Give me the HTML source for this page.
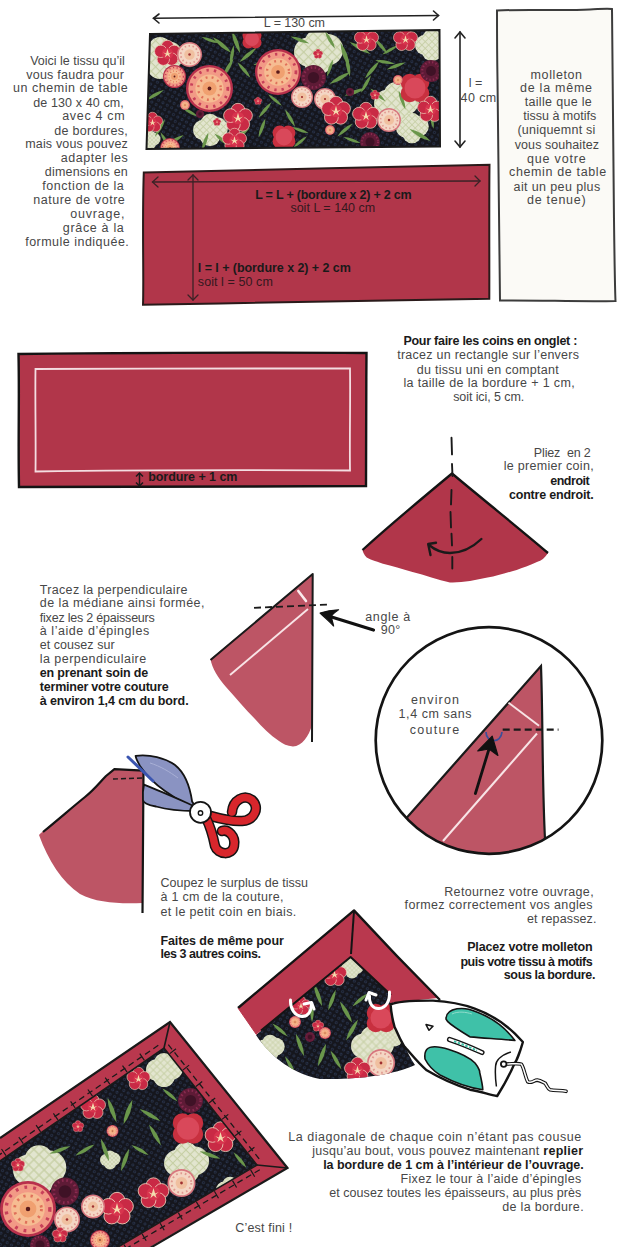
<!DOCTYPE html>
<html><head><meta charset="utf-8">
<style>
html,body{margin:0;padding:0;background:#fff;}
body{width:624px;height:1247px;position:relative;overflow:hidden;font-family:"Liberation Sans",sans-serif;color:#474747;}
svg.main{position:absolute;left:0;top:0;}
.ln{position:absolute;font-size:12.5px;line-height:14px;white-space:pre;}
b{font-weight:bold;color:#1a1a1a;}
</style></head><body>
<svg class="main" width="624" height="1247" viewBox="0 0 624 1247">
<defs>
<symbol id="plum" viewBox="-1 -1 2 2" overflow="visible">
<g fill="#c92a45" stroke="#f3d9c0" stroke-width="0.05">
<circle cx="0" cy="-0.52" r="0.46"/><circle cx="0.5" cy="-0.16" r="0.46"/><circle cx="0.31" cy="0.42" r="0.46"/><circle cx="-0.31" cy="0.42" r="0.46"/><circle cx="-0.5" cy="-0.16" r="0.46"/>
</g>
<circle r="0.42" fill="#d8344e"/>
<path d="M0 -0.35 L0.1 0 L0.33 -0.1 L0.12 0.08 L0.2 0.3 L0 0.12 L-0.2 0.3 L-0.12 0.08 L-0.33 -0.1 L-0.1 0Z" fill="#f4dcae"/>
</symbol>
<symbol id="chry" viewBox="-1 -1 2 2" overflow="visible">
<circle r="1" fill="#b8304c"/>
<circle r="0.9" fill="#f29a86"/>
<circle r="0.78" fill="none" stroke="#c8405a" stroke-width="0.12" stroke-dasharray="0.1 0.22"/>
<circle r="0.6" fill="#f6bc92"/>
<circle r="0.48" fill="none" stroke="#e0705a" stroke-width="0.1" stroke-dasharray="0.08 0.18"/>
<circle r="0.3" fill="#f0a070"/>
<circle r="0.08" fill="#5a1a1a"/>
</symbol>
<symbol id="pchry" viewBox="-1 -1 2 2" overflow="visible">
<circle r="1" fill="#d7767e"/>
<circle r="0.88" fill="#f4d6c4"/>
<circle r="0.7" fill="none" stroke="#e09890" stroke-width="0.14" stroke-dasharray="0.12 0.2"/>
<circle r="0.42" fill="#f0c0a0"/>
<circle r="0.1" fill="#a03030"/>
</symbol>
<symbol id="dchry" viewBox="-1 -1 2 2" overflow="visible">
<circle r="1" fill="#5e1b36"/>
<circle r="0.8" fill="none" stroke="#8a2a50" stroke-width="0.2" stroke-dasharray="0.12 0.2"/>
<circle r="0.45" fill="#3f1226"/>
</symbol>
<pattern id="dots" width="5" height="5" patternUnits="userSpaceOnUse" patternTransform="rotate(30)">
<rect width="5" height="5" fill="#15161d"/>
<circle cx="2.5" cy="2.5" r="1" fill="none" stroke="#2e3d60" stroke-width="0.8"/>
</pattern>
<symbol id="leaf" viewBox="-1 -1 2 2" overflow="visible">
<path d="M-1 0 Q0 -0.34 1 0 Q0 0.34 -1 0Z" fill="#6a964b"/>
</symbol>
<symbol id="latt" viewBox="-1 -1 2 2" overflow="visible">
<g fill="#c8303f"><circle cx="-0.35" cy="-0.35" r="0.6"/><circle cx="0.35" cy="-0.35" r="0.6"/><circle cx="0.35" cy="0.35" r="0.6"/><circle cx="-0.35" cy="0.35" r="0.6"/></g>
<circle r="0.7" fill="#d9485a"/>
</symbol>
<symbol id="cloud" viewBox="-1 -1 2 2" overflow="visible">
<g fill="url(#lat)"><circle cx="-0.4" cy="0" r="0.6"/><circle cx="0.4" cy="-0.1" r="0.65"/><circle cx="0" cy="0.35" r="0.6"/><circle cx="0" cy="-0.4" r="0.55"/></g>
</symbol>
<pattern id="lat" width="0.28" height="0.28" patternUnits="userSpaceOnUse" patternTransform="rotate(45)">
<rect width="0.28" height="0.28" fill="#e2e5cf"/>
<path d="M0 0.14 H0.28 M0.14 0 V0.28" stroke="#c6cfa4" stroke-width="0.05"/>
</pattern>
</defs>
<!-- top arrow -->
<g stroke="#222" stroke-width="1.6" fill="none" stroke-linecap="round">
<path d="M153.5 18.3 L438.5 15.5"/>
<path d="M159 14 L153.5 18.3 L159 23"/>
<path d="M433.5 11 L438.5 15.5 L433.5 20"/>
</g>
<!-- top fabric -->
<g id="fab1">
<defs><clipPath id="cf1"><path d="M150 34 L439.5 30 L440 146.5 L146.5 149 Z"/></clipPath></defs>
<g clip-path="url(#cf1)">
<rect x="145" y="28" width="300" height="124" fill="url(#dots)"/>
<use href="#cloud" x="138.0" y="36.0" width="44.0" height="44.0"/>
<use href="#cloud" x="294.0" y="28.0" width="48.0" height="48.0"/>
<use href="#cloud" x="415.0" y="28.0" width="34.0" height="34.0"/>
<use href="#cloud" x="193.0" y="113.0" width="34.0" height="34.0"/>
<use href="#cloud" x="374.0" y="81.0" width="44.0" height="44.0"/>
<use href="#cloud" x="396.0" y="112.0" width="32.0" height="32.0"/>
<use href="#cloud" x="140.0" y="130.0" width="20.0" height="20.0"/>
<use href="#leaf" x="-12.0" y="-12.0" width="24.0" height="24.0" transform="translate(222,45) rotate(40)"/>
<use href="#leaf" x="-12.0" y="-12.0" width="24.0" height="24.0" transform="translate(236,42) rotate(70)"/>
<use href="#leaf" x="-11.0" y="-11.0" width="22.0" height="22.0" transform="translate(248,55) rotate(-40)"/>
<use href="#leaf" x="-11.0" y="-11.0" width="22.0" height="22.0" transform="translate(228,68) rotate(-60)"/>
<use href="#leaf" x="-9.0" y="-9.0" width="18.0" height="18.0" transform="translate(210,40) rotate(20)"/>
<use href="#leaf" x="-9.0" y="-9.0" width="18.0" height="18.0" transform="translate(256,40) rotate(100)"/>
<use href="#leaf" x="-12.0" y="-12.0" width="24.0" height="24.0" transform="translate(240,135) rotate(-35)"/>
<use href="#leaf" x="-10.0" y="-10.0" width="20.0" height="20.0" transform="translate(222,140) rotate(40)"/>
<use href="#leaf" x="-10.0" y="-10.0" width="20.0" height="20.0" transform="translate(262,128) rotate(-70)"/>
<use href="#leaf" x="-10.0" y="-10.0" width="20.0" height="20.0" transform="translate(160,128) rotate(-60)"/>
<use href="#leaf" x="-10.0" y="-10.0" width="20.0" height="20.0" transform="translate(175,140) rotate(-30)"/>
<use href="#leaf" x="-10.0" y="-10.0" width="20.0" height="20.0" transform="translate(290,118) rotate(60)"/>
<use href="#leaf" x="-9.0" y="-9.0" width="18.0" height="18.0" transform="translate(300,130) rotate(20)"/>
<use href="#leaf" x="-13.0" y="-13.0" width="26.0" height="26.0" transform="translate(345,55) rotate(70)"/>
<use href="#leaf" x="-12.0" y="-12.0" width="24.0" height="24.0" transform="translate(360,48) rotate(30)"/>
<use href="#leaf" x="-12.0" y="-12.0" width="24.0" height="24.0" transform="translate(340,78) rotate(-30)"/>
<use href="#leaf" x="-11.0" y="-11.0" width="22.0" height="22.0" transform="translate(372,70) rotate(-50)"/>
<use href="#leaf" x="-10.0" y="-10.0" width="20.0" height="20.0" transform="translate(385,62) rotate(10)"/>
<use href="#leaf" x="-11.0" y="-11.0" width="22.0" height="22.0" transform="translate(355,92) rotate(-20)"/>
<use href="#leaf" x="-10.0" y="-10.0" width="20.0" height="20.0" transform="translate(378,95) rotate(40)"/>
<use href="#leaf" x="-10.0" y="-10.0" width="20.0" height="20.0" transform="translate(402,100) rotate(70)"/>
<use href="#leaf" x="-12.0" y="-12.0" width="24.0" height="24.0" transform="translate(420,135) rotate(30)"/>
<use href="#leaf" x="-9.0" y="-9.0" width="18.0" height="18.0" transform="translate(432,120) rotate(80)"/>
<use href="#leaf" x="-10.0" y="-10.0" width="20.0" height="20.0" transform="translate(300,40) rotate(20)"/>
<use href="#leaf" x="-10.0" y="-10.0" width="20.0" height="20.0" transform="translate(155,95) rotate(-30)"/>
<use href="#leaf" x="-10.0" y="-10.0" width="20.0" height="20.0" transform="translate(232,55) rotate(-80)"/>
<use href="#leaf" x="-10.0" y="-10.0" width="20.0" height="20.0" transform="translate(244,70) rotate(50)"/>
<use href="#leaf" x="-9.0" y="-9.0" width="18.0" height="18.0" transform="translate(262,62) rotate(-20)"/>
<use href="#leaf" x="-9.0" y="-9.0" width="18.0" height="18.0" transform="translate(190,112) rotate(30)"/>
<use href="#leaf" x="-10.0" y="-10.0" width="20.0" height="20.0" transform="translate(265,110) rotate(-50)"/>
<use href="#leaf" x="-9.0" y="-9.0" width="18.0" height="18.0" transform="translate(275,100) rotate(40)"/>
<use href="#leaf" x="-10.0" y="-10.0" width="20.0" height="20.0" transform="translate(205,142) rotate(-70)"/>
<use href="#leaf" x="-10.0" y="-10.0" width="20.0" height="20.0" transform="translate(330,40) rotate(60)"/>
<use href="#leaf" x="-9.0" y="-9.0" width="18.0" height="18.0" transform="translate(390,50) rotate(-30)"/>
<use href="#leaf" x="-10.0" y="-10.0" width="20.0" height="20.0" transform="translate(345,130) rotate(-40)"/>
<use href="#leaf" x="-9.0" y="-9.0" width="18.0" height="18.0" transform="translate(165,140) rotate(60)"/>
<use href="#leaf" x="-11.0" y="-11.0" width="22.0" height="22.0" transform="translate(348,66) rotate(80)"/>
<use href="#leaf" x="-10.0" y="-10.0" width="20.0" height="20.0" transform="translate(366,84) rotate(-60)"/>
<use href="#leaf" x="-10.0" y="-10.0" width="20.0" height="20.0" transform="translate(381,46) rotate(50)"/>
<use href="#leaf" x="-10.0" y="-10.0" width="20.0" height="20.0" transform="translate(396,66) rotate(-20)"/>
<use href="#leaf" x="-9.0" y="-9.0" width="18.0" height="18.0" transform="translate(352,140) rotate(20)"/>
<use href="#leaf" x="-9.0" y="-9.0" width="18.0" height="18.0" transform="translate(300,142) rotate(-40)"/>
<use href="#leaf" x="-9.0" y="-9.0" width="18.0" height="18.0" transform="translate(330,68) rotate(-70)"/>
<use href="#plum" x="154.0" y="40.0" width="27.0" height="27.0"/>
<use href="#pchry" x="177.0" y="42.0" width="25.0" height="25.0"/>
<use href="#chry" x="163.0" y="65.0" width="23.0" height="23.0"/>
<use href="#chry" x="186.0" y="65.0" width="47.0" height="47.0"/>
<use href="#chry" x="255.0" y="49.0" width="46.0" height="46.0"/>
<use href="#plum" x="223.0" y="103.0" width="30.0" height="30.0"/>
<use href="#plum" x="222.0" y="128.0" width="25.0" height="25.0"/>
<use href="#plum" x="142.0" y="112.0" width="21.0" height="21.0"/>
<use href="#latt" x="272.0" y="125.0" width="24.0" height="24.0"/>
<use href="#latt" x="242.0" y="29.0" width="20.0" height="20.0"/>
<use href="#dchry" x="301.0" y="65.0" width="25.0" height="25.0"/>
<use href="#pchry" x="291.0" y="86.0" width="22.0" height="22.0"/>
<use href="#pchry" x="314.0" y="88.0" width="22.0" height="22.0"/>
<use href="#plum" x="321.0" y="96.0" width="30.0" height="30.0"/>
<use href="#plum" x="354.0" y="27.0" width="25.0" height="25.0"/>
<use href="#plum" x="393.0" y="27.0" width="25.0" height="25.0"/>
<use href="#latt" x="400.0" y="73.0" width="30.0" height="30.0"/>
<use href="#plum" x="417.0" y="96.0" width="27.0" height="27.0"/>
<use href="#plum" x="352.0" y="102.0" width="28.0" height="28.0"/>
<use href="#pchry" x="377.0" y="108.0" width="24.0" height="24.0"/>
<use href="#dchry" x="420.0" y="60.0" width="22.0" height="22.0"/>
<use href="#dchry" x="360.0" y="132.0" width="20.0" height="20.0"/>
<use href="#chry" x="160.0" y="138.0" width="20.0" height="20.0"/>
<use href="#plum" x="254.0" y="97.0" width="8.0" height="8.0"/>
<use href="#chry" x="180.0" y="100.0" width="10.0" height="10.0"/>
<use href="#plum" x="213.0" y="118.0" width="8.0" height="8.0"/>
<use href="#dchry" x="196.0" y="110.0" width="8.0" height="8.0"/>
<use href="#chry" x="325.0" y="125.0" width="10.0" height="10.0"/>
<use href="#plum" x="313.0" y="49.0" width="10.0" height="10.0"/>
<use href="#chry" x="393.0" y="75.0" width="10.0" height="10.0"/>
<use href="#plum" x="370.0" y="90.0" width="10.0" height="10.0"/>
<use href="#dchry" x="346.0" y="88.0" width="8.0" height="8.0"/>
</g>
</g>
<path d="M150 34 L439.5 30 L440 146.5 L146.5 149 Z" fill="none" stroke="#1a1a1a" stroke-width="2"/>
<!-- vertical arrow -->
<g stroke="#222" stroke-width="1.6" fill="none" stroke-linecap="round">
<path d="M460 32 L460 147"/>
<path d="M455 38 L460 32 L465 38"/>
<path d="M455 141 L460 147 L465 141"/>
</g>
<!-- molleton -->
<path d="M497 10.5 C530 9 560 11 590 9.5 C600 9 608 8 612 9 C612.5 80 613 150 614 220 C614.5 260 615 290 615.5 301 C580 302 540 300 500 300.5 C499 220 498 150 497.5 80 C497 50 497 25 497 10.5 Z" fill="#fbfaf6" stroke="#3c3c3c" stroke-width="2"/>
<!-- red rect 1 -->
<path d="M143.8 172.6 C250 170 380 167 489.5 164.7 C489 210 489.5 260 489.3 298.7 C380 300 260 303 143 304.8 C144 280 142 220 143.8 172.6 Z" fill="#b1364a" stroke="#2a1a1a" stroke-width="2"/>
<g stroke="#3a2226" stroke-width="1.3" fill="none" stroke-linecap="round">
<path d="M152.5 182 L480 181"/>
<path d="M158 177 L152.5 182 L158 187"/>
<path d="M475 176 L480 181 L475 186"/>
<path d="M193 175 L193 300"/>
<path d="M188 180 L193 175 L198 180"/>
<path d="M188 295 L193 300 L198 295"/>
</g>
<!-- red rect 2 -->
<path d="M18.5 354 C120 353 250 352 366.5 353 C366 400 366.5 450 366 486 C250 486.5 120 487 19 487 C18 440 19.5 400 18.5 354 Z" fill="#b1364a" stroke="#141414" stroke-width="2.4"/>
<path d="M35.5 369 C140 368 250 369 350 368.5 C350.5 400 349.5 440 350 470.5 C250 470 140 470 35.5 471.5 C36 440 35 400 35.5 369 Z" fill="none" stroke="#f4dde1" stroke-width="1.8"/>
<g stroke="#1a1a1a" stroke-width="1.5" fill="none">
<path d="M139.5 473 L139.5 486"/>
<path d="M136 476.5 L139.5 473 L143 476.5"/>
<path d="M136 482.5 L139.5 486 L143 482.5"/>
</g>

<!-- fold triangle -->
<path d="M452 473.5 L548 553 C545 558 541 561 537.5 561.7 C530 565 522 568 516.7 570 C505 573 497 576 487.5 577.5 C475 580 462 583 450 582.5 C438 580 425 575 412.5 572 C402 569 392 566 383 563.75 C375 561 369 559 366.7 557.5 C364 555 363 552 362.5 550 Z" fill="#b1364a"/>
<path d="M362.5 550 C390 525 420 500 452 473.5 C480 497 515 525 548 553" fill="none" stroke="#141414" stroke-width="2.3" stroke-linejoin="round"/>
<path d="M451.5 437.7 L452 454.4 M452 464 L452.5 476 M451.5 490 L451 504.4 M450.5 512 L451 527.4 M451.5 533.8 L452 545.4 M452.3 557 L452.3 568.5" fill="none" stroke="#1a1a1a" stroke-width="1.9" stroke-linecap="round"/>
<path d="M481.4 539 C472 548 462 553 450 553 C442 553 435 550 429 545" fill="none" stroke="#1a1a1a" stroke-width="2.4" stroke-linecap="round"/>
<path d="M436 542.8 L428.2 544 L430.5 555" fill="none" stroke="#1a1a1a" stroke-width="2.4" stroke-linecap="round" stroke-linejoin="round"/>
<!-- triangle 2 -->
<path d="M312.7 574 L312 725 C309 736 302 746 293 746.5 C287 746 283 744 279 741 C270 735 262 727 255 719 C245 709 235 697 226 687 C218 678 212 668 210.5 659 Z" fill="#bd5565"/>
<path d="M210.5 660 L312.7 574 L312 742" fill="none" stroke="#1a1a1a" stroke-width="2" stroke-linejoin="round"/>
<path d="M254 607.8 L329.7 604.5" fill="none" stroke="#1a1a1a" stroke-width="1.8" stroke-dasharray="7 4"/>
<path d="M230 675 L308 609" fill="none" stroke="#f8e4e6" stroke-width="1.9"/>
<path d="M298.3 591 L306 601" fill="none" stroke="#fbeaec" stroke-width="2.6" stroke-linecap="round"/>
<path d="M373.5 630 L330 616.5" fill="none" stroke="#111" stroke-width="3.2" stroke-linecap="round"/>
<path d="M320.1 613.1 C326 611 332 610 338.6 609.8 C335 612 332 614 331.3 617 C332 620 333 623 333.6 626 C329 621 324 617 320.1 613.1 Z" fill="#111" stroke="#111" stroke-width="1.2" stroke-linejoin="round"/>
<!-- circle -->
<defs><clipPath id="circ"><circle cx="489" cy="740.5" r="113"/></clipPath></defs>
<g clip-path="url(#circ)">
<path d="M541 666 L545 860 L380 860 L406.5 818 Z" fill="#bd5565"/>
<path d="M406.5 818 L541 666 C543 720 542 780 545 839" fill="none" stroke="#1a1a1a" stroke-width="2.2"/>
<path d="M508.5 702.7 L539 725.8" stroke="#f8e4e6" stroke-width="2"/>
<path d="M537 733.5 L443 841" stroke="#f8e4e6" stroke-width="2"/>
</g>
<circle cx="489" cy="740.5" r="113.3" fill="none" stroke="#141414" stroke-width="2.7"/>
<path d="M502.7 729.6 L558.5 729.6" stroke="#1a1a1a" stroke-width="2.4" stroke-dasharray="7 4"/>
<path d="M486 732 C486 743 501 744 502 732" fill="none" stroke="#3a4f9a" stroke-width="1.7"/>
<path d="M475.4 793.5 L489 749" stroke="#111" stroke-width="2.8" stroke-linecap="round"/>
<path d="M492.2 736.2 L497.9 755.4 L489 749 L477.8 751 Z" fill="#111" stroke="#111" stroke-width="1.2" stroke-linejoin="round"/>
<!-- cut fabric with scissors -->
<path d="M114.4 769.2 L143.5 770.6 L143 903 C120 904 97 903 80 894 C62 882 48 860 39 835 C45 829 60 818 85 797 C95 789 100 782 106 776 Z" fill="#bd5565"/>
<path d="M43 832 C60 818 75 805 85 797 C95 789 100 782 106 776 L114.4 769.2 L143.5 770.6 L142.5 913" fill="none" stroke="#141414" stroke-width="2.2" stroke-linejoin="round"/>
<path d="M113 779 L143 778" stroke="#1a1a1a" stroke-width="1.4" stroke-dasharray="5 3"/>
<path d="M135.6 755.8 C150 754 165 758 175 765 C185 773 190 787 192.1 801.5 L196 808 C185 805 175 798 165 791 C155 784 146 775 140 766 C138 762 136 759 135.6 755.8 Z" fill="#8a93c2" stroke="#141414" stroke-width="1.8" stroke-linejoin="round"/>
<path d="M144 784.7 C160 791 178 799 194 806 L195 811 C180 811 165 809 156 806.5 C148 805 143 803 143 800 C142.5 794 143 789 144 784.7 Z" fill="#8a93c2" stroke="#141414" stroke-width="1.8" stroke-linejoin="round"/>
<path d="M150 763 C160 766 170 772 178 778" stroke="#a9b0d6" stroke-width="1" fill="none"/>
<path d="M128 757 L153 781" stroke="#3b55b0" stroke-width="3" stroke-linecap="round"/>
<g fill="none" stroke-linecap="round" stroke-linejoin="round">
<path d="M207 815 C218 818 230 822 242 821 C255 820 260 807 252 800 C244 794 233 800 232 812" stroke="#141414" stroke-width="10.5"/>
<path d="M207 815 C218 818 230 822 242 821 C255 820 260 807 252 800 C244 794 233 800 232 812" stroke="#d8262c" stroke-width="7.5"/>
<path d="M206 818 C210 826 213 836 215 846 C218 855 232 856 234 846 C236 836 228 829 222 831" stroke="#141414" stroke-width="10.5"/>
<path d="M206 818 C210 826 213 836 215 846 C218 855 232 856 234 846 C236 836 228 829 222 831" stroke="#d8262c" stroke-width="7.5"/>
</g>
<circle cx="200.5" cy="812.3" r="10.5" fill="#fff" stroke="#141414" stroke-width="1.8"/>
<circle cx="200.5" cy="813" r="2.2" fill="none" stroke="#141414" stroke-width="1.4"/>

<!-- iron scene -->
<defs><clipPath id="cf2"><path d="M256 1035 L350.6 957 L389 993 L393 1002 C397 1030 405 1050 415 1065 C400 1072 370 1080 320 1079 C295 1074 272 1059 256 1035 Z"/></clipPath></defs>
<g clip-path="url(#cf2)">
<rect x="250" y="945" width="170" height="140" fill="url(#dots)"/>
<use href="#cloud" x="341.0" y="957.0" width="22.0" height="22.0"/>
<use href="#cloud" x="351.0" y="1025.0" width="42.0" height="42.0"/>
<use href="#cloud" x="256.0" y="1034.0" width="28.0" height="28.0"/>
<use href="#cloud" x="383.0" y="1023.0" width="24.0" height="24.0"/>
<use href="#leaf" x="-12.0" y="-12.0" width="24.0" height="24.0" transform="translate(318,995) rotate(70)"/>
<use href="#leaf" x="-11.0" y="-11.0" width="22.0" height="22.0" transform="translate(332,1000) rotate(110)"/>
<use href="#leaf" x="-12.0" y="-12.0" width="24.0" height="24.0" transform="translate(346,1012) rotate(60)"/>
<use href="#leaf" x="-12.0" y="-12.0" width="24.0" height="24.0" transform="translate(352,1030) rotate(120)"/>
<use href="#leaf" x="-12.0" y="-12.0" width="24.0" height="24.0" transform="translate(300,1045) rotate(70)"/>
<use href="#leaf" x="-12.0" y="-12.0" width="24.0" height="24.0" transform="translate(322,1055) rotate(110)"/>
<use href="#leaf" x="-11.0" y="-11.0" width="22.0" height="22.0" transform="translate(336,1060) rotate(60)"/>
<use href="#leaf" x="-10.0" y="-10.0" width="20.0" height="20.0" transform="translate(280,1030) rotate(40)"/>
<use href="#leaf" x="-10.0" y="-10.0" width="20.0" height="20.0" transform="translate(360,1000) rotate(-40)"/>
<use href="#leaf" x="-10.0" y="-10.0" width="20.0" height="20.0" transform="translate(290,1065) rotate(60)"/>
<use href="#leaf" x="-10.0" y="-10.0" width="20.0" height="20.0" transform="translate(312,1012) rotate(90)"/>
<use href="#plum" x="322.0" y="962.0" width="25.0" height="25.0"/>
<use href="#plum" x="291.0" y="996.0" width="20.0" height="20.0"/>
<use href="#latt" x="366.0" y="1003.0" width="30.0" height="30.0"/>
<use href="#pchry" x="367.0" y="1049.0" width="28.0" height="28.0"/>
<use href="#plum" x="344.0" y="1057.0" width="27.0" height="27.0"/>
<use href="#chry" x="289.0" y="1016.0" width="12.0" height="12.0"/>
<use href="#plum" x="312.0" y="1020.0" width="12.0" height="12.0"/>
<use href="#dchry" x="305.0" y="1032.0" width="10.0" height="10.0"/>
<use href="#chry" x="319.0" y="1027.0" width="12.0" height="12.0"/>
</g>
<path d="M238 1008 L354 910.4 Q396 956 438 998 L390 1003 L389 993 L350.6 957 L261.25 1030.5 L256.4 1034.5 Z" fill="#b9384e"/>
<path d="M238 1008 L354 910.4 Q396 956 440 1000" fill="none" stroke="#141414" stroke-width="2.3" stroke-linejoin="round"/>
<path d="M261 1030.5 L350.6 957 L391 995" fill="none" stroke="#141414" stroke-width="2" stroke-linejoin="round"/>
<path d="M354 911 L351 954" stroke="#141414" stroke-width="2"/>
<path d="M238 1008 L256.4 1034.5" stroke="#b9384e" stroke-width="1"/>
<g fill="none" stroke="#fff" stroke-width="3" stroke-linecap="round" stroke-linejoin="round">
<path d="M290.5 1000 C290 1009 295 1016 302 1016.5 C308 1017 311 1012 311.5 1004"/>
<path d="M304 1004 L311.5 1002.5 L314 1009"/>
<path d="M389.5 992 C390 1001 386 1008 379 1008.5 C373 1009 369 1004 369.5 996"/>
<path d="M366 1000 L369 992.5 L376 995"/>
</g>
<!-- iron -->
<path d="M390.6 1004.6 C396 1001.5 415 1000.5 433 1000.6 C450 1001.5 465 1005 474.7 1008.6 C490 1014 505 1024 514.9 1033.7 L522.9 1042 C520 1052 516 1062 514.9 1062.5 C511 1072 506 1082 497.2 1096 C488 1094 478 1091 470 1089.7 C455 1085 438 1077 426.7 1070.3 C417 1062 408 1050 404.2 1046.3 C398 1036 395 1027 394.6 1027 C392 1018 391 1010 390.6 1004.6 Z" fill="#fff" stroke="#141414" stroke-width="2.4" stroke-linejoin="round"/>
<path d="M446 1019 C446 1013 450 1010 457 1008.8 C466 1007.5 472 1010 478 1012.5 C492 1018 505 1027 514.9 1040.5 C500 1039 485 1038.3 470 1036.9 C462 1032 452 1026 447.5 1021.4 Z" fill="#3fc1a8" stroke="#141414" stroke-width="1.6" stroke-linejoin="round"/>
<path d="M426.7 1049.5 C430 1046 436 1045.5 449 1049.5 C460 1053 470 1058 475 1063 C479 1068 480 1072 479.6 1072 C481 1078 482.5 1084 482.8 1089.7 C470 1088 455 1083 440 1075 C432 1070 427 1063 425 1059 C424.5 1055 425.5 1051 426.7 1049.5 Z" fill="#3fc1a8" stroke="#141414" stroke-width="1.6" stroke-linejoin="round"/>
<path d="M452 1014 C458 1011 466 1012 472 1014" stroke="#8fdccb" stroke-width="1" fill="none"/>
<path d="M426 1024.6 L433 1026.3 L429 1030.3 Z" fill="none" stroke="#141414" stroke-width="1.5" stroke-linejoin="round"/>
<path d="M449.5 1039.5 C460 1043 472 1048 482 1052.5" fill="none" stroke="#141414" stroke-width="5.2" stroke-linecap="round"/>
<path d="M449.5 1039.5 C460 1043 472 1048 482 1052.5" fill="none" stroke="#fff" stroke-width="2.4" stroke-linecap="round"/>
<path d="M454 1041.3 C462 1044 470 1047.5 477 1050.5" fill="none" stroke="#3fc1a8" stroke-width="2" stroke-dasharray="2.5 1.5"/>
<path d="M510.9 1052 C502 1055 496 1060 495.6 1066 C495 1073 495.5 1080 496.4 1086.5" fill="none" stroke="#141414" stroke-width="1.5"/>
<path d="M506 1064 C512 1064 518 1063 521.3 1064.1 C524 1068 525 1076 527.7 1081.7 C531 1084 534 1080 537.3 1080.1 C541 1080.5 544 1083 545.3 1083.3 C547 1086 548 1089 550 1089.7 C555 1091 561 1090 566 1091.3" fill="none" stroke="#141414" stroke-width="3.6" stroke-linecap="round" stroke-linejoin="round"/>
<path d="M506 1064 C512 1064 518 1063 521.3 1064.1 C524 1068 525 1076 527.7 1081.7 C531 1084 534 1080 537.3 1080.1 C541 1080.5 544 1083 545.3 1083.3 C547 1086 548 1089 550 1089.7 C555 1091 561 1090 566 1091.3" fill="none" stroke="#fff" stroke-width="1.5" stroke-linecap="round" stroke-linejoin="round"/>
<circle cx="503.7" cy="1064.1" r="2.8" fill="#fff" stroke="#141414" stroke-width="1.8"/>
<!-- bottom-left fabric -->
<defs><clipPath id="cf3"><path d="M0 1161 L164 1048 L257 1165 L118 1247 L0 1247 Z"/></clipPath></defs>
<g clip-path="url(#cf3)">
<rect x="0" y="1040" width="270" height="210" fill="url(#dots)"/>
<use href="#cloud" x="146.0" y="1052.0" width="36.0" height="36.0"/>
<use href="#cloud" x="164.0" y="1141.0" width="44.0" height="44.0"/>
<use href="#cloud" x="13.0" y="1144.0" width="52.0" height="52.0"/>
<use href="#cloud" x="216.0" y="1176.0" width="28.0" height="28.0"/>
<use href="#cloud" x="100.0" y="1150.0" width="20.0" height="20.0"/>
<use href="#leaf" x="-13.0" y="-13.0" width="26.0" height="26.0" transform="translate(112,1110) rotate(70)"/>
<use href="#leaf" x="-13.0" y="-13.0" width="26.0" height="26.0" transform="translate(128,1112) rotate(110)"/>
<use href="#leaf" x="-12.0" y="-12.0" width="24.0" height="24.0" transform="translate(150,1115) rotate(30)"/>
<use href="#leaf" x="-12.0" y="-12.0" width="24.0" height="24.0" transform="translate(155,1135) rotate(60)"/>
<use href="#leaf" x="-12.0" y="-12.0" width="24.0" height="24.0" transform="translate(105,1150) rotate(70)"/>
<use href="#leaf" x="-12.0" y="-12.0" width="24.0" height="24.0" transform="translate(125,1160) rotate(110)"/>
<use href="#leaf" x="-11.0" y="-11.0" width="22.0" height="22.0" transform="translate(85,1150) rotate(-30)"/>
<use href="#leaf" x="-11.0" y="-11.0" width="22.0" height="22.0" transform="translate(210,1155) rotate(20)"/>
<use href="#leaf" x="-11.0" y="-11.0" width="22.0" height="22.0" transform="translate(60,1150) rotate(-20)"/>
<use href="#leaf" x="-10.0" y="-10.0" width="20.0" height="20.0" transform="translate(140,1150) rotate(30)"/>
<use href="#leaf" x="-10.0" y="-10.0" width="20.0" height="20.0" transform="translate(170,1095) rotate(40)"/>
<use href="#leaf" x="-10.0" y="-10.0" width="20.0" height="20.0" transform="translate(240,1160) rotate(50)"/>
<use href="#plum" x="126.5" y="1067.0" width="24.0" height="24.0"/>
<use href="#plum" x="80.0" y="1094.0" width="26.0" height="26.0"/>
<use href="#dchry" x="178.0" y="1088.0" width="25.0" height="25.0"/>
<use href="#latt" x="172.0" y="1112.5" width="32.0" height="32.0"/>
<use href="#plum" x="204.5" y="1121.5" width="32.0" height="32.0"/>
<use href="#pchry" x="167.5" y="1169.0" width="28.0" height="28.0"/>
<use href="#plum" x="137.5" y="1177.5" width="32.0" height="32.0"/>
<use href="#plum" x="100.0" y="1192.0" width="34.0" height="34.0"/>
<use href="#pchry" x="81.0" y="1194.5" width="24.0" height="24.0"/>
<use href="#dchry" x="51.0" y="1177.5" width="28.0" height="28.0"/>
<use href="#chry" x="0.0" y="1181.0" width="56.0" height="56.0"/>
<use href="#pchry" x="54.0" y="1206.5" width="26.0" height="26.0"/>
<use href="#chry" x="106.5" y="1125.0" width="12.0" height="12.0"/>
<use href="#plum" x="72.0" y="1120.5" width="12.0" height="12.0"/>
<use href="#plum" x="11.0" y="1158.0" width="14.0" height="14.0"/>
<use href="#chry" x="90.0" y="1230.0" width="20.0" height="20.0"/>
<use href="#dchry" x="30.0" y="1235.0" width="20.0" height="20.0"/>
<use href="#plum" x="52.0" y="1227.0" width="16.0" height="16.0"/>
</g>
<path d="M0 1138 L170 1022 L287.5 1168 L150 1247 L118 1247 L257 1165 L164 1048 L0 1161 Z" fill="#b9384e"/>
<path d="M0 1138 L170 1022 L287.5 1168 L150 1248" fill="none" stroke="#1a1a1a" stroke-width="2.2"/>
<path d="M0 1161 L164 1048 L257 1165 L118 1247" fill="none" stroke="#1a1a1a" stroke-width="1.6"/>
<path d="M164 1048 L170 1022 M257 1165 L287.5 1168" stroke="#1a1a1a" stroke-width="1.6"/>
<path d="M-3.1 1156.5 L160.9 1043.5 M168.3 1044.6 L261.3 1161.6 M259.8 1169.7 L120.8 1251.7" fill="none" stroke="#1a1a1a" stroke-width="1.3" stroke-dasharray="6 4"/>
<path d="M6.0 1155.6 L1.5 1149.0 M23.3 1143.7 L18.8 1137.1 M40.6 1131.8 L36.1 1125.2 M57.9 1119.9 L53.4 1113.3 M75.2 1108.0 L70.6 1101.4 M92.5 1096.1 L87.9 1089.5 M109.8 1084.1 L105.2 1077.6 M127.1 1072.2 L122.5 1065.6 M144.4 1060.3 L139.8 1053.7 M169.8 1053.6 L176.0 1048.7 M182.8 1070.1 L189.1 1065.1 M195.9 1086.5 L202.2 1081.5 M209.0 1103.0 L215.2 1098.0 M222.0 1119.4 L228.3 1114.4 M235.1 1135.8 L241.4 1130.9 M248.2 1152.3 L254.4 1147.3 M250.6 1169.9 L254.7 1176.8 M232.5 1180.6 L236.6 1187.5 M214.4 1191.3 L218.5 1198.2 M196.4 1201.9 L200.4 1208.8 M178.3 1212.6 L182.3 1219.5 M160.2 1223.3 L164.2 1230.2 M142.1 1233.9 L146.2 1240.8 M124.0 1244.6 L128.1 1251.5" fill="none" stroke="#1a1a1a" stroke-width="1.2"/>
</svg>
<div class="ln" id="left0" style="left:30.20px;top:54.20px;letter-spacing:0.004px;">Voici le tissu qu’il</div>
<div class="ln" id="left1" style="left:26.20px;top:68.20px;letter-spacing:0.254px;">vous faudra pour</div>
<div class="ln" id="left2" style="left:13.00px;top:81.00px;letter-spacing:0.540px;">un chemin de table</div>
<div class="ln" id="left3" style="left:33.20px;top:96.00px;letter-spacing:0.120px;">de 130 x 40 cm,</div>
<div class="ln" id="left4" style="left:62.20px;top:109.00px;letter-spacing:0.681px;">avec 4 cm</div>
<div class="ln" id="left5" style="left:54.20px;top:123.60px;letter-spacing:0.312px;">de bordures,</div>
<div class="ln" id="left6" style="left:25.20px;top:137.00px;letter-spacing:0.170px;">mais vous pouvez</div>
<div class="ln" id="left7" style="left:60.80px;top:151.00px;letter-spacing:0.516px;">adapter les</div>
<div class="ln" id="left8" style="left:44.80px;top:165.00px;letter-spacing:0.199px;">dimensions en</div>
<div class="ln" id="left9" style="left:42.20px;top:179.00px;letter-spacing:0.557px;">fonction de la</div>
<div class="ln" id="left10" style="left:33.20px;top:193.40px;letter-spacing:0.538px;">nature de votre</div>
<div class="ln" id="left11" style="left:70.20px;top:207.00px;letter-spacing:0.823px;">ouvrage,</div>
<div class="ln" id="left12" style="left:62.80px;top:221.00px;letter-spacing:0.679px;">grâce à la</div>
<div class="ln" id="left13" style="left:25.20px;top:235.00px;letter-spacing:0.482px;">formule indiquée.</div>
<div class="ln" id="top0" style="left:263.80px;top:16.00px;letter-spacing:-0.056px;">L = 130 cm</div>
<div class="ln" id="top1" style="left:468.80px;top:76.30px;letter-spacing:-0.073px;">l =</div>
<div class="ln" id="top2" style="left:460.60px;top:90.80px;letter-spacing:0.392px;">40 cm</div>
<div class="ln" id="moll0" style="left:530.60px;top:67.60px;letter-spacing:0.593px;">molleton</div>
<div class="ln" id="moll1" style="left:520.00px;top:80.80px;letter-spacing:0.745px;">de la même</div>
<div class="ln" id="moll2" style="left:524.70px;top:95.20px;letter-spacing:0.325px;">taille que le</div>
<div class="ln" id="moll3" style="left:523.20px;top:109.00px;letter-spacing:0.006px;">tissu à motifs</div>
<div class="ln" id="moll4" style="left:517.40px;top:123.00px;letter-spacing:0.247px;">(uniquemnt si</div>
<div class="ln" id="moll5" style="left:514.80px;top:138.00px;letter-spacing:0.062px;">vous souhaitez</div>
<div class="ln" id="moll6" style="left:527.00px;top:152.00px;letter-spacing:0.811px;">que votre</div>
<div class="ln" id="moll7" style="left:509.00px;top:165.40px;letter-spacing:0.639px;">chemin de table</div>
<div class="ln" id="moll8" style="left:513.60px;top:179.80px;letter-spacing:0.378px;">ait un peu plus</div>
<div class="ln" id="moll9" style="left:527.00px;top:193.00px;letter-spacing:0.723px;">de tenue)</div>
<div class="ln" id="form0" style="left:255.20px;top:188.20px;letter-spacing:-0.223px;"><b>L = L + (bordure x 2) + 2 cm</b></div>
<div class="ln" id="form1" style="left:290.40px;top:201.00px;letter-spacing:0.013px;color:#35181e;">soit L = 140 cm</div>
<div class="ln" id="form2" style="left:197.80px;top:261.20px;letter-spacing:-0.056px;"><b>l = l + (bordure x 2) + 2 cm</b></div>
<div class="ln" id="form3" style="left:197.80px;top:275.00px;letter-spacing:0.079px;color:#35181e;">soit l = 50 cm</div>
<div class="ln" id="form4" style="left:148.20px;top:470.00px;letter-spacing:-0.058px;"><b>bordure + 1 cm</b></div>
<div class="ln" id="pour0" style="left:403.40px;top:334.00px;letter-spacing:-0.257px;"><b>Pour faire les coins en onglet :</b></div>
<div class="ln" id="pour1" style="left:397.20px;top:348.40px;letter-spacing:0.262px;">tracez un rectangle sur l’envers</div>
<div class="ln" id="pour2" style="left:416.80px;top:362.60px;letter-spacing:0.275px;">du tissu uni en comptant</div>
<div class="ln" id="pour3" style="left:403.40px;top:376.20px;letter-spacing:0.346px;">la taille de la bordure + 1 cm,</div>
<div class="ln" id="pour4" style="left:453.20px;top:389.60px;letter-spacing:-0.087px;">soit ici, 5 cm.</div>
<div class="ln" id="pliez0" style="left:533.80px;top:445.60px;letter-spacing:-0.137px;">Pliez  en 2</div>
<div class="ln" id="pliez1" style="left:503.80px;top:459.40px;letter-spacing:0.291px;">le premier coin,</div>
<div class="ln" id="pliez2" style="left:550.20px;top:474.20px;letter-spacing:-0.460px;"><b>endroit</b></div>
<div class="ln" id="pliez3" style="left:509.00px;top:488.00px;letter-spacing:-0.207px;"><b>contre endroit.</b></div>
<div class="ln" id="tracez0" style="left:39.80px;top:582.80px;letter-spacing:0.321px;">Tracez la perpendiculaire</div>
<div class="ln" id="tracez1" style="left:39.80px;top:596.00px;letter-spacing:0.425px;">de la médiane ainsi formée,</div>
<div class="ln" id="tracez2" style="left:39.80px;top:610.60px;letter-spacing:-0.214px;">fixez les 2 épaisseurs</div>
<div class="ln" id="tracez3" style="left:39.80px;top:623.80px;letter-spacing:0.555px;">à l’aide d’épingles</div>
<div class="ln" id="tracez4" style="left:39.80px;top:637.80px;letter-spacing:0.039px;">et cousez sur</div>
<div class="ln" id="tracez5" style="left:39.80px;top:651.80px;letter-spacing:0.454px;">la perpendiculaire</div>
<div class="ln" id="tracez6" style="left:39.80px;top:665.80px;letter-spacing:-0.161px;"><b>en prenant soin de</b></div>
<div class="ln" id="tracez7" style="left:39.80px;top:680.00px;letter-spacing:-0.216px;"><b>terminer votre couture</b></div>
<div class="ln" id="tracez8" style="left:39.80px;top:694.00px;letter-spacing:-0.109px;"><b>à environ 1,4 cm du bord.</b></div>
<div class="ln" id="angle0" style="left:365.20px;top:610.00px;letter-spacing:0.664px;">angle à</div>
<div class="ln" id="angle1" style="left:380.80px;top:623.00px;letter-spacing:0.247px;">90°</div>
<div class="ln" id="angle2" style="left:411.00px;top:692.80px;letter-spacing:1.167px;">environ</div>
<div class="ln" id="angle3" style="left:398.60px;top:707.40px;letter-spacing:0.562px;">1,4 cm sans</div>
<div class="ln" id="angle4" style="left:409.80px;top:723.20px;letter-spacing:1.285px;">couture</div>
<div class="ln" id="coupez0" style="left:160.40px;top:876.00px;letter-spacing:0.040px;">Coupez le surplus de tissu</div>
<div class="ln" id="coupez1" style="left:160.40px;top:889.80px;letter-spacing:0.315px;">à 1 cm de la couture,</div>
<div class="ln" id="coupez2" style="left:160.40px;top:904.60px;letter-spacing:0.346px;">et le petit coin en biais.</div>
<div class="ln" id="coupez3" style="left:160.40px;top:933.60px;letter-spacing:-0.091px;"><b>Faites de même pour</b></div>
<div class="ln" id="coupez4" style="left:160.40px;top:946.80px;letter-spacing:-0.432px;"><b>les 3 autres coins.</b></div>
<div class="ln" id="retour0" style="left:444.20px;top:885.00px;letter-spacing:0.364px;">Retournez votre ouvrage,</div>
<div class="ln" id="retour1" style="left:404.60px;top:898.00px;letter-spacing:0.351px;">formez correctement vos angles</div>
<div class="ln" id="retour2" style="left:527.00px;top:912.00px;letter-spacing:0.120px;">et repassez.</div>
<div class="ln" id="retour3" style="left:467.20px;top:940.40px;letter-spacing:-0.155px;"><b>Placez votre molleton</b></div>
<div class="ln" id="retour4" style="left:460.40px;top:954.60px;letter-spacing:-0.481px;"><b>puis votre tissu à motifs</b></div>
<div class="ln" id="retour5" style="left:503.80px;top:968.00px;letter-spacing:-0.377px;"><b>sous la bordure.</b></div>
<div class="ln" id="bottom0" style="left:288.20px;top:1130.40px;letter-spacing:0.549px;">La diagonale de chaque coin n’étant pas cousue</div>
<div class="ln" id="bottom1" style="left:312.20px;top:1144.00px;letter-spacing:0.284px;">jusqu’au bout, vous pouvez maintenant <b>replier</b></div>
<div class="ln" id="bottom2" style="left:323.20px;top:1158.00px;letter-spacing:-0.048px;"><b>la bordure de 1 cm à l’intérieur de l’ouvrage.</b></div>
<div class="ln" id="bottom3" style="left:400.60px;top:1172.00px;letter-spacing:0.301px;">Fixez le tour à l’aide d’épingles</div>
<div class="ln" id="bottom4" style="left:329.20px;top:1186.00px;letter-spacing:0.059px;">et cousez toutes les épaisseurs, au plus près</div>
<div class="ln" id="bottom5" style="left:502.20px;top:1199.80px;letter-spacing:0.329px;">de la bordure.</div>
<div class="ln" id="bottom6" style="left:235.20px;top:1221.20px;letter-spacing:0.193px;">C’est fini !</div>
</body></html>
